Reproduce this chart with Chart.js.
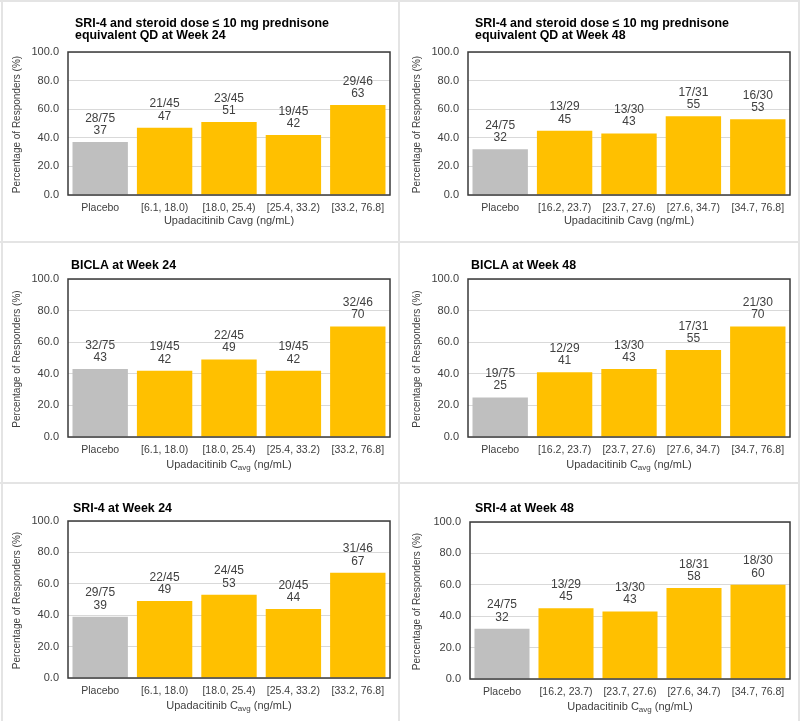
<!DOCTYPE html>
<html lang="en">
<head>
<meta charset="UTF-8">
<title>Responders by Upadacitinib Cavg</title>
<script src="https://cdn.jsdelivr.net/npm/chart.js"></script>
<style>
  body { margin: 0; background: #fff; }
  #page { position: relative; width: 800px; height: 721px; overflow: hidden; }
  .hl { position: absolute; left: 0; width: 800px; height: 2px; background: #e4e4e4; }
  .vl { position: absolute; top: 0; width: 2px; height: 721px; background: #e4e4e4; }
  canvas { position: absolute; }
</style>
</head>
<body>
<div id="page">
  <div class="hl" style="top:0"></div>
  <div class="hl" style="top:241px"></div>
  <div class="hl" style="top:482px"></div>
  <div class="vl" style="left:1px"></div>
  <div class="vl" style="left:398px"></div>
  <div class="vl" style="left:798px"></div>
  <canvas id="c1"></canvas>
  <canvas id="c2"></canvas>
  <canvas id="c3"></canvas>
  <canvas id="c4"></canvas>
  <canvas id="c5"></canvas>
  <canvas id="c6"></canvas>
</div>

<script>
const FONT = "'Liberation Sans', Arial, sans-serif";

// ---- data ----
const catsWeek24 = ['Placebo', '[6.1, 18.0)', '[18.0, 25.4)', '[25.4, 33.2)', '[33.2, 76.8]'];
const catsWeek48 = ['Placebo', '[16.2, 23.7)', '[23.7, 27.6)', '[27.6, 34.7)', '[34.7, 76.8]'];
const yTicks = [0, 20, 40, 60, 80, 100];

const steroid24 = [37, 47, 51, 42, 63];
const steroid24N = ['28/75', '21/45', '23/45', '19/45', '29/46'];
const steroid48 = [32, 45, 43, 55, 53];
const steroid48N = ['24/75', '13/29', '13/30', '17/31', '16/30'];
const bicla24 = [43, 42, 49, 42, 70];
const bicla24N = ['32/75', '19/45', '22/45', '19/45', '32/46'];
const bicla48 = [25, 41, 43, 55, 70];
const bicla48N = ['19/75', '12/29', '13/30', '17/31', '21/30'];
const sri24 = [39, 49, 53, 44, 67];
const sri24N = ['29/75', '22/45', '24/45', '20/45', '31/46'];
const sri48 = [32, 45, 43, 58, 60];
const sri48N = ['24/75', '13/29', '13/30', '18/31', '18/30'];

const titles = [
  ['SRI-4 and steroid dose \u2264 10 mg prednisone', 'equivalent QD at Week 24'],
  ['SRI-4 and steroid dose \u2264 10 mg prednisone', 'equivalent QD at Week 48'],
  ['BICLA at Week 24'],
  ['BICLA at Week 48'],
  ['SRI-4 at Week 24'],
  ['SRI-4 at Week 48']
];
const yTitle = 'Percentage of Responders (%)';

const panelData = [
  { cats: catsWeek24, values: steroid24, counts: steroid24N, sub: false },
  { cats: catsWeek48, values: steroid48, counts: steroid48N, sub: false },
  { cats: catsWeek24, values: bicla24, counts: bicla24N, sub: true },
  { cats: catsWeek48, values: bicla48, counts: bicla48N, sub: true },
  { cats: catsWeek24, values: sri24, counts: sri24N, sub: true },
  { cats: catsWeek48, values: sri48, counts: sri48N, sub: true }
];

// ---- layout (page pixels) ----
const layouts = [
  { box: [3, 2, 395, 239],   plot: [68, 52, 390, 195],  tx: 75,  ty: [26.7, 38.5], yx: 17,  xy: 221 },
  { box: [400, 2, 398, 239], plot: [468, 52, 790, 195], tx: 475, ty: [26.7, 38.5], yx: 417, xy: 221 },
  { box: [3, 243, 395, 239], plot: [68, 279, 390, 437], tx: 71,  ty: [269.3],      yx: 17,  xy: 465 },
  { box: [400, 243, 398, 239], plot: [468, 279, 790, 437], tx: 471, ty: [269.3],  yx: 417, xy: 465 },
  { box: [3, 484, 395, 237], plot: [68, 521, 390, 678], tx: 73,  ty: [511.5],      yx: 17,  xy: 706 },
  { box: [400, 484, 398, 237], plot: [470, 522, 790, 679], tx: 475, ty: [512.3],  yx: 417, xy: 706.5 }
];

// labels, frame, titles
const extras = {
  id: 'extras',
  afterDatasetsDraw(chart, args, o) {
    const ctx = chart.ctx, a = chart.chartArea;
    const ds = chart.data.datasets[0];
    ctx.save();
    // frame round the plot
    ctx.strokeStyle = '#3a3a3a';
    ctx.lineWidth = 1.5;
    ctx.strokeRect(a.left, a.top, a.right - a.left, a.bottom - a.top);

    // n/N and percentage above the bars
    ctx.fillStyle = '#404040';
    ctx.font = '12px ' + FONT;
    ctx.textAlign = 'center';
    ctx.textBaseline = 'middle';
    chart.getDatasetMeta(0).data.forEach((bar, i) => {
      ctx.fillText(o.counts[i], bar.x, bar.y - 23.7);
      ctx.fillText(String(ds.data[i]), bar.x, bar.y - 11.4);
    });

    // panel title
    ctx.fillStyle = '#000';
    ctx.font = 'bold 12.4px ' + FONT;
    ctx.textAlign = 'left';
    ctx.textBaseline = 'alphabetic';
    o.title.forEach((line, i) => ctx.fillText(line, o.tx, o.ty[i]));

    // y axis title
    ctx.fillStyle = '#404040';
    ctx.font = '10px ' + FONT;
    ctx.textAlign = 'center';
    ctx.textBaseline = 'middle';
    ctx.save();
    ctx.translate(o.yx, (a.top + a.bottom) / 2 + 1);
    ctx.rotate(-Math.PI / 2);
    ctx.fillText(yTitle, 0, 0);
    ctx.restore();

    // x axis title, with Cavg or C subscript avg
    const cx = (a.left + a.right) / 2;
    ctx.textBaseline = 'middle';
    if (!o.sub) {
      ctx.font = '11px ' + FONT;
      ctx.fillText('Upadacitinib Cavg (ng/mL)', cx, o.xy);
    } else {
      const p1 = 'Upadacitinib C', p2 = 'avg', p3 = ' (ng/mL)';
      ctx.font = '11px ' + FONT;
      const w1 = ctx.measureText(p1).width, w3 = ctx.measureText(p3).width;
      ctx.font = '8px ' + FONT;
      const w2 = ctx.measureText(p2).width;
      let x = cx - (w1 + w2 + w3) / 2;
      ctx.textAlign = 'left';
      ctx.font = '11px ' + FONT;
      ctx.fillText(p1, x, o.xy);
      ctx.font = '8px ' + FONT;
      ctx.fillText(p2, x + w1, o.xy + 3);
      ctx.font = '11px ' + FONT;
      ctx.fillText(p3, x + w1 + w2, o.xy);
    }
    ctx.restore();
  }
};

panelData.forEach((d, k) => {
  const L = layouts[k];
  const [ox, oy, W, H] = L.box;
  const el = document.getElementById('c' + (k + 1));
  el.width = W; el.height = H;
  el.style.left = ox + 'px'; el.style.top = oy + 'px';
  el.style.width = W + 'px'; el.style.height = H + 'px';
  const pl = L.plot[0] - ox, pt = L.plot[1] - oy, pr = L.plot[2] - ox, pb = L.plot[3] - oy;

  new Chart(el, {
    type: 'bar',
    data: {
      labels: d.cats,
      datasets: [{
        data: d.values,
        backgroundColor: d.cats.map((c, i) => i === 0 ? '#bfbfbf' : '#ffc000'),
        borderWidth: 0,
        barPercentage: 0.86,
        categoryPercentage: 1.0
      }]
    },
    options: {
      responsive: false,
      animation: false,
      devicePixelRatio: 1,
      layout: { padding: { left: 0, top: pt, right: W - pr, bottom: 0 } },
      plugins: {
        legend: { display: false },
        title: { display: false },
        tooltip: { enabled: false },
        extras: {
          counts: d.counts, sub: d.sub, title: titles[k],
          tx: L.tx - ox, ty: L.ty.map(v => v - oy),
          yx: L.yx - ox, xy: L.xy - oy
        }
      },
      scales: {
        x: {
          grid: { display: false, drawTicks: false },
          border: { display: false },
          ticks: { color: '#404040', font: { size: 10.5, family: FONT }, padding: 7, maxRotation: 0, autoSkip: false },
          afterFit: s => { s.height = H - pb; }
        },
        y: {
          min: 0, max: 100,
          afterBuildTicks: s => { s.ticks = yTicks.map(v => ({ value: v })); },
          grid: { color: '#d9d9d9', lineWidth: 1, drawTicks: false },
          border: { display: false },
          ticks: { color: '#404040', font: { size: 11, family: FONT }, padding: 9, callback: v => v.toFixed(1) },
          afterFit: s => { s.width = pl; }
        }
      }
    },
    plugins: [extras]
  });
});
</script>
</body>
</html>
